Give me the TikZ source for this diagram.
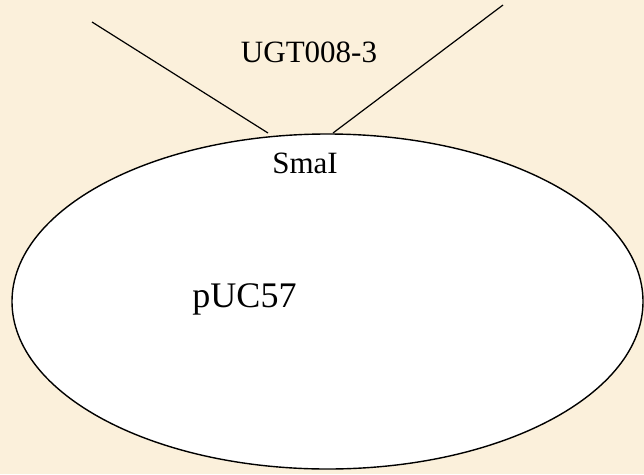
\documentclass[tikz,border=0pt]{standalone}
\usepackage{fontspec}
\setmainfont{Liberation Serif}
\usetikzlibrary{shapes.geometric}
\definecolor{paper}{RGB}{251,240,219}
\tikzset{
  plasmid/.style={draw=black, line width=1.4pt, ellipse, fill=white, inner sep=0pt,
                  minimum width=631pt, minimum height=335pt},
  insertline/.style={draw=black, line width=1.2pt},
  lbl/.style={inner sep=0pt, anchor=base, font=\fontsize{31}{36}\selectfont},
  biglbl/.style={inner sep=0pt, anchor=base, font=\fontsize{36}{42}\selectfont}
}
\begin{document}
\begin{tikzpicture}[x=1pt,y=-1pt]
  \fill[paper] (0,0) rectangle (644,474);
  \useasboundingbox (0,0) rectangle (644,474);
  % vector backbone
  \node[plasmid] (puc) at (327.5,301.5) {};
  % insert arms meeting the SmaI site
  \coordinate (armL) at (92,22);
  \coordinate (armR) at (503,5);
  \coordinate (siteL) at (268,133);
  \coordinate (siteR) at (333,133);
  \draw[insertline] (armL) -- (siteL);
  \draw[insertline] (armR) -- (siteR);
  % labels
  \node[lbl] (gene) at (309,62) {UGT008-3};
  \node[lbl] (site) at (305,173) {SmaI};
  \node[biglbl] (name) at (244.5,307) {pUC57};
\end{tikzpicture}
\end{document}
